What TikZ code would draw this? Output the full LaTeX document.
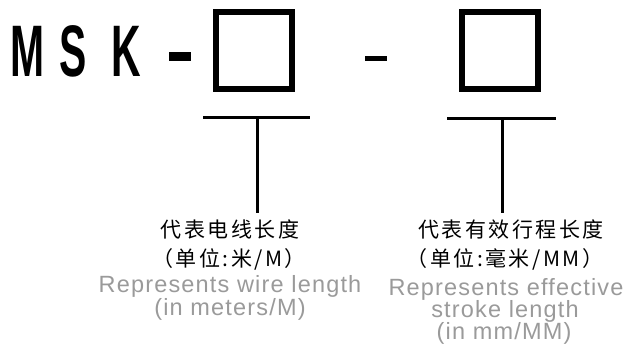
\documentclass[tikz,border=0pt]{standalone}
\usepackage{fontspec}
\setmainfont{Liberation Sans}
\newfontfamily\cjk{Noto Sans CJK SC}
\newfontfamily\cjksp[LetterSpace=12]{Noto Sans CJK SC}
\newfontfamily\ensp[LetterSpace=5]{Liberation Sans}
\definecolor{txtgray}{HTML}{9A9A9A}
\begin{document}
\begin{tikzpicture}[x=1pt,y=-1pt,
  bigletter/.style={inner sep=0pt,anchor=base,font=\bfseries\fontsize{73}{73}\selectfont,xscale=0.56},
  codebox/.style={draw,line width=6pt,minimum width=76pt,minimum height=77pt,inner sep=0pt},
  bar/.style={line width=3pt},
  cntxt/.style={inner sep=0pt,font=\cjksp\fontsize{21}{21}\selectfont},
  entxt/.style={inner sep=0pt,anchor=base,text=txtgray,font=\ensp\fontsize{23.5}{23.5}\selectfont}]
\useasboundingbox (0,0) rectangle (631,346);
\node[bigletter] (m) at (28,76) {M};
\node[bigletter] (s) at (73,76) {S};
\node[bigletter] (k) at (126,76) {K};
\fill (169,52) rectangle (191,61);
\node[codebox] (b1) at (254,50.5) {};
\fill (365,56) rectangle (387,61);
\node[codebox] (b2) at (499.5,50.5) {};
\draw[bar] (203,117) coordinate (l1) -- (310,117) coordinate (r1);
\draw[bar] (447,118) coordinate (l2) -- (556,118) coordinate (r2);
\coordinate (t1) at (257,117);
\coordinate (e1) at (257,213);
\coordinate (t2) at (502,118);
\coordinate (e2) at (502,213);
\draw[bar] (t1) -- (e1);
\draw[bar] (t2) -- (e2);
\node[cntxt] (c1) at (230,229) {代表电线长度};
\node[cntxt] (c2) at (229,259) {（单位:米/M）};
\node[entxt] (e1a) at (230,292) {Represents wire length};
\node[entxt] (e1b) at (230,315) {(in meters/M)};
\node[cntxt] (c3) at (511,229) {代表有效行程长度};
\node[cntxt] (c4) at (505,259) {（单位:毫米/MM）};
\node[entxt] (e2a) at (506,295) {Represents effective};
\node[entxt] (e2b) at (505,317) {stroke length};
\node[entxt] (e2c) at (504,339) {(in mm/MM)};
\end{tikzpicture}
\end{document}
